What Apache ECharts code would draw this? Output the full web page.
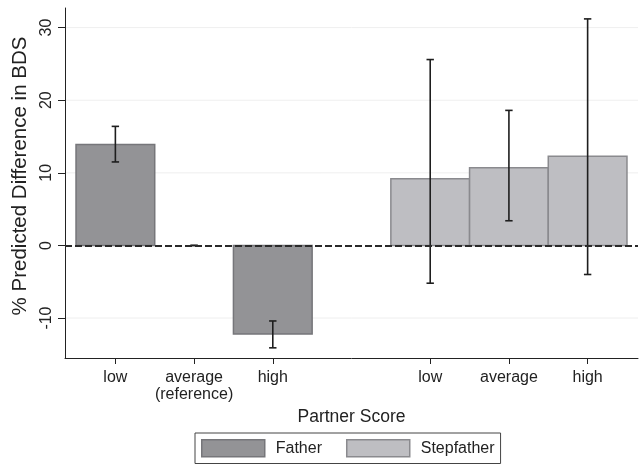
<!DOCTYPE html>
<html>
<head>
<meta charset="utf-8">
<script src="https://cdn.jsdelivr.net/npm/echarts@6/dist/echarts.min.js"></script>
<style>
html,body{margin:0;padding:0;background:#fff;}
#chart{width:640px;height:466px;}
</style>
</head>
<body>
<div id="chart"></div>
<script>
// ---- data ----
const tickPositions = [1, 2, 3, 5, 6, 7];
const tickLabels = ['low', 'average\n(reference)', 'high', 'low', 'average', 'high'];
const yTicks = [-10, 0, 10, 20, 30];

const fatherX = [1, 2, 3];
const fatherValues = [13.9, 0, -12.2];
const fatherLow = [11.5, 0, -14.1];
const fatherHigh = [16.4, 0, -10.4];

const stepX = [5, 6, 7];
const stepValues = [9.2, 10.7, 12.3];
const stepLow = [-5.2, 3.4, -4.0];
const stepHigh = [25.6, 18.6, 31.2];

// ---- styles ----
const FONT = 'Liberation Sans, Arial, Helvetica, sans-serif';
const TXT = '#222';
const fatherStyle = { color: '#939396', borderColor: '#76767a', borderWidth: 1.5 };
const stepStyle = { color: '#bebec2', borderColor: '#8a8a8e', borderWidth: 1.5 };

function barRender(style) {
  return function (params, api) {
    const x = api.value(0), y = api.value(1);
    if (y === 0) return null;
    const p1 = api.coord([x - 0.5, y]);
    const p2 = api.coord([x + 0.5, 0]);
    return {
      type: 'rect',
      shape: { x: p1[0], y: Math.min(p1[1], p2[1]), width: p2[0] - p1[0], height: Math.abs(p2[1] - p1[1]) },
      style: { fill: style.color, stroke: style.borderColor, lineWidth: style.borderWidth }
    };
  };
}

function errRender(params, api) {
  const x = api.value(0), lo = api.value(1), hi = api.value(2);
  const a = api.coord([x, lo]);
  const b = api.coord([x, hi]);
  const w = 3.7;
  const st = { stroke: '#1e1e1e', lineWidth: 1.6 };
  return {
    type: 'group',
    children: [
      { type: 'line', shape: { x1: a[0], y1: a[1], x2: b[0], y2: b[1] }, style: st },
      { type: 'line', shape: { x1: a[0] - w, y1: a[1], x2: a[0] + w, y2: a[1] }, style: st },
      { type: 'line', shape: { x1: b[0] - w, y1: b[1], x2: b[0] + w, y2: b[1] }, style: st }
    ]
  };
}

function gridRender(params, api) {
  const v = api.value(0);
  const cs = params.coordSys;
  const y = api.coord([1, v])[1];
  return {
    type: 'line',
    shape: { x1: cs.x, y1: y, x2: cs.x + cs.width, y2: y },
    style: { stroke: '#efefef', lineWidth: 1 }
  };
}

const fatherBarData = fatherX.map((x, i) => [x, fatherValues[i]]);
const stepBarData = stepX.map((x, i) => [x, stepValues[i]]);
const errData = fatherX.map((x, i) => [x, fatherLow[i], fatherHigh[i]])
  .concat(stepX.map((x, i) => [x, stepLow[i], stepHigh[i]]));
const gridData = yTicks.filter(v => v !== 0).map(v => [v]);

const chart = echarts.init(document.getElementById('chart'), null, { renderer: 'canvas' });
chart.setOption({
  animation: false,
  backgroundColor: '#fff',
  textStyle: { fontFamily: FONT },
  grid: { left: 65, right: 2, top: 8, bottom: 108, containLabel: false },
  legend: {
    data: [
      { name: 'Father', itemStyle: { color: fatherStyle.color, borderColor: fatherStyle.borderColor, borderWidth: 1.5 } },
      { name: 'Stepfather', itemStyle: { color: stepStyle.color, borderColor: stepStyle.borderColor, borderWidth: 1.5 } }
    ],
    icon: 'rect',
    left: 195,
    top: 433,
    itemWidth: 63,
    itemHeight: 17,
    itemGap: 24,
    padding: [6, 6, 6, 6],
    borderColor: '#444',
    borderWidth: 1,
    borderRadius: 0,
    textStyle: { fontSize: 16, color: TXT, fontFamily: FONT, padding: [0, 0, 0, 6] }
  },
  xAxis: {
    type: 'value',
    min: 0.36,
    max: 7.64,
    name: 'Partner Score',
    nameLocation: 'middle',
    nameGap: 42,
    nameTextStyle: { fontSize: 17.5, color: TXT, fontFamily: FONT },
    axisLine: { show: true, onZero: false, lineStyle: { color: '#222', width: 1 } },
    axisTick: { show: true, length: 6, customValues: tickPositions, lineStyle: { color: '#222' } },
    axisLabel: {
      show: true,
      customValues: tickPositions,
      margin: 11,
      fontSize: 16,
      lineHeight: 17,
      color: TXT,
      fontFamily: FONT,
      formatter: function (v) {
        const i = tickPositions.indexOf(Math.round(v * 100) / 100);
        return i >= 0 ? tickLabels[i] : '';
      }
    },
    splitLine: { show: false }
  },
  yAxis: {
    type: 'value',
    min: -15.5,
    max: 32.7,
    name: '% Predicted Difference in BDS',
    nameLocation: 'middle',
    nameGap: 31,
    nameRotate: 90,
    nameTextStyle: { fontSize: 20.5, color: TXT, fontFamily: FONT, padding: [0, 0, 0, 14] },
    axisLine: { show: true, lineStyle: { color: '#222', width: 1 } },
    axisTick: { show: true, length: 7, customValues: yTicks, lineStyle: { color: '#222' } },
    axisLabel: { show: true, customValues: yTicks, rotate: 90, margin: 10, fontSize: 16, color: TXT, fontFamily: FONT },
    splitLine: { show: false }
  },
  series: [
    {
      name: 'gridlines',
      type: 'custom',
      renderItem: gridRender,
      data: gridData,
      encode: { y: 0 },
      silent: true,
      z: 0
    },
    {
      name: 'Father',
      type: 'custom',
      renderItem: barRender(fatherStyle),
      itemStyle: { color: fatherStyle.color, borderColor: fatherStyle.borderColor, borderWidth: 1.5 },
      data: fatherBarData,
      encode: { x: 0, y: 1 },
      z: 2
    },
    {
      name: 'Stepfather',
      type: 'custom',
      renderItem: barRender(stepStyle),
      itemStyle: { color: stepStyle.color, borderColor: stepStyle.borderColor, borderWidth: 1.5 },
      data: stepBarData,
      encode: { x: 0, y: 1 },
      z: 2
    },
    {
      name: 'zero',
      type: 'custom',
      renderItem: function () { return null; },
      data: [],
      silent: true,
      z: 3,
      markLine: {
        silent: true,
        symbol: 'none',
        label: { show: false },
        lineStyle: { color: '#2a2a2a', width: 2, type: [7, 3] },
        data: [{ yAxis: 0 }]
      }
    },
    {
      name: 'CI',
      type: 'custom',
      renderItem: errRender,
      data: errData,
      encode: { x: 0, y: [1, 2] },
      z: 4
    }
  ]
});
</script>
</body>
</html>
